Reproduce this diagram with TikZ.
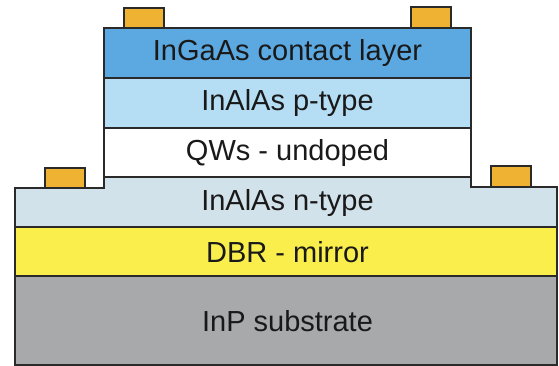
\documentclass[tikz,border=0pt]{standalone}
\usepackage{fontspec}
\setmainfont{Liberation Sans}
\definecolor{cContact}{HTML}{5CA9E2}
\definecolor{cPtype}{HTML}{B5DEF5}
\definecolor{cNtype}{HTML}{D2E2EA}
\definecolor{cDBR}{HTML}{F9EE4C}
\definecolor{cSub}{HTML}{A7A9AB}
\definecolor{cMetal}{HTML}{EFB232}
\definecolor{cLine}{HTML}{2A2A2A}
\begin{document}
\begin{tikzpicture}[x=1pt,y=-1pt,
  layer/.style={draw=cLine,line width=1.3pt},
  metal/.style={draw=cLine,line width=1.1pt,fill=cMetal},
  lbl/.style={font=\fontsize{29}{33}\selectfont,text=black!90,inner sep=0pt}]
\useasboundingbox (0,0) rectangle (559,366);
% lower block
\path[fill=cSub,layer] (15,276) rectangle (557,365);
\path[fill=cDBR,layer] (15,227) rectangle (557,276);
\path[fill=cNtype,layer] (15,227) -- (15,188) -- (104,188) -- (104,177) -- (471,177) -- (471,187) -- (557,187) -- (557,227) -- cycle;
% mesa
\path[fill=white,layer] (104,128) rectangle (471,177);
\path[fill=cPtype,layer] (104,78) rectangle (471,128);
\path[fill=cContact,layer] (104,28) rectangle (471,78);
\draw[layer] (104,28) -- (104,188);
\draw[layer] (471,28) -- (471,187);
% contacts
\path[metal] (124,8) rectangle (164,28);
\path[metal] (411,7) rectangle (451,28);
\path[metal] (45,168) rectangle (85,188);
\path[metal] (491,166) rectangle (531,187);
% labels
\node[lbl] (tContact) at (287.5,53) {InGaAs contact layer};
\node[lbl] (tP) at (287.5,103) {InAlAs p-type};
\node[lbl] (tQW) at (287.5,153) {QWs - undoped};
\node[lbl] (tN) at (287.5,203) {InAlAs n-type};
\node[lbl] (tDBR) at (287.5,252) {DBR - mirror};
\node[lbl] (tSub) at (287.5,321) {InP substrate};
\end{tikzpicture}
\end{document}
